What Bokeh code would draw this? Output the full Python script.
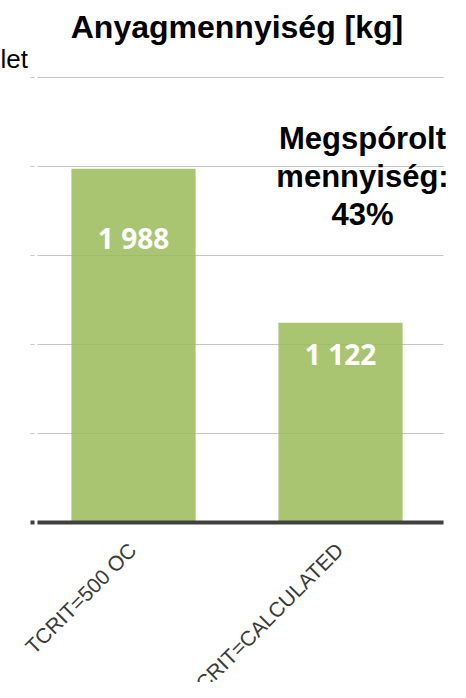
import math
from bokeh.plotting import figure
from bokeh.models import Range1d, Label, FixedTicker, Grid, LinearAxis, CustomJSTickFormatter
from bokeh.embed import file_html
from bokeh.resources import INLINE

# ---- data ----
categories = ["TCRIT=500 OC", "TCRIT=CALCULATED"]
values = [1988, 1122]
value_labels = ["1 988", "1 122"]
y_ticks = [0, 500, 1000, 1500, 2000, 2500]
title_text = "Anyagmennyiség [kg]"
fragment_text = "let"
note_lines = ["Megspórolt", "mennyiség:", "43%"]

# ---- layout helpers (pixel -> data) ----
W, H = 450, 682
PX_PER_X = 207.0   # px per category step
X0_PX = 133.0      # px of first category centre
PX_PER_Y = 0.178   # px per kg
Y0_PX = 522.0      # px of zero line
SHIFT = 0.35       # baseline correction (fraction of font size)


def dx(px):
    return (px - X0_PX) / PX_PER_X


def dy(py):
    return (Y0_PX - py) / PX_PER_Y


def base(py, size):
    return dy(py - SHIFT * size)


p = figure(width=W, height=H, output_backend="svg", toolbar_location=None,
           x_axis_type=None, y_axis_type=None, title_location=None,
           x_range=Range1d(dx(0), dx(W)), y_range=Range1d(dy(H), dy(0)),
           min_border=0)
p.outline_line_color = None
p.background_fill_color = "white"
p.border_fill_color = "white"

# gridlines (light), short tick dashes at left
grid = Grid(dimension=1, ticker=FixedTicker(ticks=y_ticks),
            cross_bounds=(dx(37), dx(443)),
            grid_line_color="#c6c6c6", grid_line_width=1)
p.add_layout(grid)
dash = Grid(dimension=1, ticker=FixedTicker(ticks=y_ticks[1:]),
            cross_bounds=(dx(30), dx(34)),
            grid_line_color="#c6c6c6", grid_line_width=1)
p.add_layout(dash)
dash0 = Grid(dimension=1, ticker=FixedTicker(ticks=y_ticks[:1]),
             cross_bounds=(dx(30), dx(34)),
             grid_line_color="#404040", grid_line_width=4)
p.add_layout(dash0)

xs = list(range(len(categories)))
p.vbar(x=xs, top=values, width=0.6, bottom=0, fill_color="#9BBB59",
       fill_alpha=0.85, line_color=None)

# baseline = x axis at zero
xaxis = LinearAxis(fixed_location=0, bounds=(dx(37), dx(443)),
                   ticker=FixedTicker(ticks=[]),
                   formatter=CustomJSTickFormatter(code="return ''"),
                   axis_line_color="#404040", axis_line_width=4,
                   major_tick_line_color=None, minor_tick_line_color=None,
                   major_tick_out=0, major_label_standoff=0)
p.add_layout(xaxis, "below")

FONT = "Liberation Sans"
# title
p.add_layout(Label(x=dx(236.5), y=base(38, 32), text=title_text,
                   text_align="center", text_baseline="alphabetic",
                   text_font=FONT, text_font_style="bold",
                   text_font_size="32px", text_color="black"))
# fragment of a cut-off axis title
p.add_layout(Label(x=dx(0), y=base(68, 26), text=fragment_text,
                   text_align="left", text_baseline="alphabetic",
                   text_font=FONT, text_font_size="26px", text_color="black"))
# note
for t, py in zip(note_lines, [149, 187, 225]):
    p.add_layout(Label(x=dx(362), y=base(py, 31), text=t, text_align="center",
                       text_baseline="alphabetic", text_font=FONT,
                       text_font_style="bold", text_font_size="31px",
                       text_color="black"))
# bar value labels
for x, t, py in zip(xs, value_labels, [247, 363]):
    p.add_layout(Label(x=x, y=base(py, 28), text=t, text_align="center",
                       text_baseline="alphabetic", text_font="Open Sans",
                       text_font_style="bold", text_font_size="28px",
                       text_color="white"))
# category labels
for x, t in zip(xs, categories):
    p.add_layout(Label(x=x, y=dy(546), x_offset=-1, text=t, angle=math.pi / 4,
                       text_align="right", text_baseline="alphabetic",
                       text_font=FONT, text_font_size="21px",
                       text_color="#3a3a3a"))

open("out.html", "w").write(file_html(p, INLINE))
